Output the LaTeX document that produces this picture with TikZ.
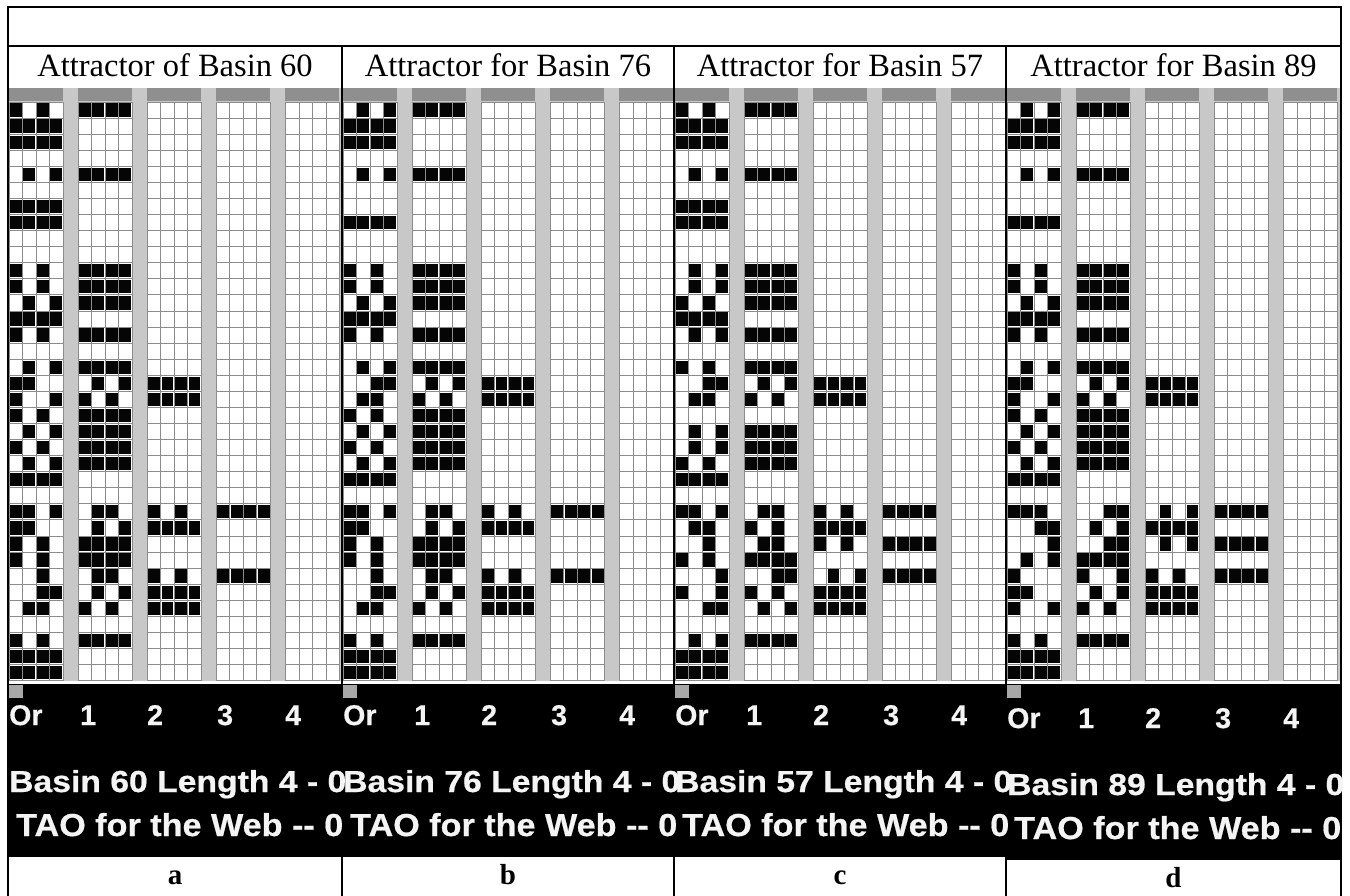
\documentclass[tikz,border=0pt]{standalone}
\usepackage{fontspec}
\setmainfont{Liberation Serif}
\newfontfamily\pixsans{Liberation Sans Bold}[FakeBold=0.6]
\usepackage{graphicx}
\definecolor{barDark}{HTML}{8F8F8F}
\definecolor{sepGray}{HTML}{C8C8C8}
\definecolor{gridGray}{HTML}{8C8C8C}
\definecolor{cellBlack}{HTML}{050505}
\definecolor{cornerGray}{HTML}{A8A8A8}
\definecolor{pixWhite}{HTML}{F4F4F4}

\tikzset{
  tableline/.style={line width=1.6pt, black},
  outerline/.style={line width=2pt, black},
  headtext/.style={anchor=base, inner sep=0pt, font=\fontsize{32.5}{38}\selectfont},
  labeltext/.style={anchor=base, inner sep=0pt, font=\fontsize{29}{34}\selectfont\bfseries},
  pixtext/.style={anchor=base west, inner sep=0pt, text=pixWhite, font=\pixsans\fontsize{28.5}{32}\selectfont},
  pixline/.style={anchor=base west, inner sep=0pt, text=pixWhite, font=\pixsans},
  gridline/.style={gridGray, line width=0.7pt},
}

\newcommand\cellfill[3]{\ifnum#1=1 \fill[cellBlack] ({#2+0.8},{#3+1.4}) rectangle ++(11.9,13.3);\fi}
\def\colbits#1#2#3#4\relax#5{%
  \cellfill{#1}{#5}{\cy}\cellfill{#2}{#5+13.5}{\cy}\cellfill{#3}{#5+27}{\cy}\cellfill{#4}{#5+40.5}{\cy}}

% grid part: #1 L, #2 R, #3 bottom shift, #4 data
\newcommand\attgrid[4]{%
  \fill[sepGray] ({#1+1},88) rectangle ({#2-1},681);
  \foreach \k in {0,...,4}{%
    \pgfmathsetmacro\xs{#1+1+69.1*\k}
    \fill[white] (\xs,102) rectangle ({\xs+54},680.5);
    \fill[barDark] (\xs,88) rectangle ({\xs+54},101.5);
    \draw[gridline] \foreach \j in {0,...,4}{({\xs+13.5*\j},102) -- ({\xs+13.5*\j},680.5)};
    \draw[gridline] \foreach \i in {0,...,36}{(\xs,{102+16.07*\i}) -- ({\xs+54},{102+16.07*\i})};
  }
  \pgfmathsetmacro\xA{#1+1}\pgfmathsetmacro\xB{#1+1+69.1}%
  \pgfmathsetmacro\xC{#1+1+138.2}\pgfmathsetmacro\xD{#1+1+207.3}%
  \foreach \r/\pA/\pB/\pC/\pD in {#4}{%
    \pgfmathsetmacro\cy{102+16.07*(\r-1)}
    \expandafter\colbits\pA\relax{\xA}
    \expandafter\colbits\pB\relax{\xB}
    \expandafter\colbits\pC\relax{\xC}
    \expandafter\colbits\pD\relax{\xD}
  }
  \fill[black] (#1,683.5) rectangle (#2,{857+#3});
  \fill[cornerGray] ({#1+1},685) rectangle ++(14,13);
}

% text part: #1 L, #2 R, #3 bottom shift, #4 header, #5 basin, #6 label
\newcommand\atttext[6]{%
  \node[pixtext] (or#6) at ({#1+1},{725+#3}) {Or};
  \node[pixtext] (one#6) at ({#1+72},{725+#3}) {1};
  \node[pixtext] (two#6) at ({#1+139},{725+#3}) {2};
  \node[pixtext] (three#6) at ({#1+209},{725+#3}) {3};
  \node[pixtext] (four#6) at ({#1+277},{725+#3}) {4};
  \node[pixline] (basin#6) at ({#1+1},{792+#3}) {\resizebox{337pt}{22pt}{Basin #5 Length 4 - 0}};
  \node[pixline] (tao#6) at ({#1+8},{836+#3}) {\resizebox{327pt}{23pt}{TAO for the Web -{}- 0}};
  \node[headtext] (head#6) at ({(#1+#2)/2},77) {#4};
  \node[labeltext] (lab#6) at ({(#1+#2)/2},{884+#3}) {#6};
}

\begin{document}
\begin{tikzpicture}[x=1pt,y=-1pt]
\useasboundingbox (0,0) rectangle (1350,896);
\fill[white] (0,0) rectangle (1350,896);

\attgrid{8}{342}{0}{1/1010/1111/0000/0000, 2/1111/0000/0000/0000, 3/1111/0000/0000/0000, 5/0101/1111/0000/0000, 7/1111/0000/0000/0000, 8/1111/0000/0000/0000, 11/1010/1111/0000/0000, 12/1010/1111/0000/0000, 13/0101/1111/0000/0000, 14/1111/0000/0000/0000, 15/1010/1111/0000/0000, 17/0101/1111/0000/0000, 18/1100/0101/1111/0000, 19/1001/1010/1111/0000, 20/1010/1111/0000/0000, 21/0101/1111/0000/0000, 22/1010/1111/0000/0000, 23/0101/1111/0000/0000, 24/1111/0000/0000/0000, 26/1101/0110/1010/1111, 27/1100/0101/1111/0000, 28/1010/1111/0000/0000, 29/1010/1111/0000/0000, 30/0010/0110/1010/1111, 31/0011/0101/1111/0000, 32/0110/1010/1111/0000, 34/1010/1111/0000/0000, 35/1111/0000/0000/0000, 36/1111/0000/0000/0000}

\attgrid{342}{674}{0}{1/0101/1111/0000/0000, 2/1111/0000/0000/0000, 3/1111/0000/0000/0000, 5/0101/1111/0000/0000, 8/1111/0000/0000/0000, 11/1010/1111/0000/0000, 12/1010/1111/0000/0000, 13/0101/1111/0000/0000, 14/1111/0000/0000/0000, 15/1010/1111/0000/0000, 17/0101/1111/0000/0000, 18/0011/0101/1111/0000, 19/0110/1010/1111/0000, 20/1010/1111/0000/0000, 21/0101/1111/0000/0000, 22/1010/1111/0000/0000, 23/0101/1111/0000/0000, 24/1111/0000/0000/0000, 26/1101/0110/1010/1111, 27/1100/0101/1111/0000, 28/1010/1111/0000/0000, 29/1010/1111/0000/0000, 30/0010/0110/1010/1111, 31/0011/0101/1111/0000, 32/0110/1010/1111/0000, 34/1010/1111/0000/0000, 35/1111/0000/0000/0000, 36/1111/0000/0000/0000}

\attgrid{674}{1006}{0}{1/1010/1111/0000/0000, 2/1111/0000/0000/0000, 3/1111/0000/0000/0000, 5/0101/1111/0000/0000, 7/1111/0000/0000/0000, 8/1111/0000/0000/0000, 11/0101/1111/0000/0000, 12/0101/1111/0000/0000, 13/1010/1111/0000/0000, 14/1111/0000/0000/0000, 15/0101/1111/0000/0000, 17/1010/1111/0000/0000, 18/0011/0101/1111/0000, 19/0110/1010/1111/0000, 21/0101/1111/0000/0000, 22/0101/1111/0000/0000, 23/1010/1111/0000/0000, 24/1111/0000/0000/0000, 26/1101/0110/1010/1111, 27/0110/1010/1111/0000, 28/0010/0110/1010/1111, 29/1010/1111/0000/0000, 30/0001/0011/0101/1111, 31/1001/1010/1111/0000, 32/0011/0101/1111/0000, 34/0101/1111/0000/0000, 35/1111/0000/0000/0000, 36/1111/0000/0000/0000}

\attgrid{1006}{1341}{3}{1/0101/1111/0000/0000, 2/1111/0000/0000/0000, 3/1111/0000/0000/0000, 5/0101/1111/0000/0000, 8/1111/0000/0000/0000, 11/1010/1111/0000/0000, 12/1010/1111/0000/0000, 13/0101/1111/0000/0000, 14/1111/0000/0000/0000, 15/1010/1111/0000/0000, 17/0101/1111/0000/0000, 18/1100/0101/1111/0000, 19/1001/1010/1111/0000, 20/1010/1111/0000/0000, 21/0101/1111/0000/0000, 22/1010/1111/0000/0000, 23/0101/1111/0000/0000, 24/1111/0000/0000/0000, 26/1110/0011/0101/1111, 27/0011/0101/1111/0000, 28/0001/0011/0101/1111, 29/0101/1111/0000/0000, 30/1000/1001/1010/1111, 31/1100/0101/1111/0000, 32/1001/1010/1111/0000, 34/1010/1111/0000/0000, 35/1111/0000/0000/0000, 36/1111/0000/0000/0000}

% table rules
\draw[outerline] (8,7) -- (1341,7);
\draw[outerline] (8,46) -- (1341,46);
\draw[outerline] (8,6) -- (8,896);
\draw[outerline] (1341,6) -- (1341,896);
\draw[tableline] (342,46) -- (342,683.5);
\draw[tableline] (674,46) -- (674,683.5);
\draw[tableline] (1006,46) -- (1006,683.5);
\draw[tableline] (342,857) -- (342,896);
\draw[tableline] (674,857) -- (674,896);
\draw[tableline] (1006,857) -- (1006,896);

\atttext{8}{342}{0}{Attractor of Basin 60}{60}{a}
\atttext{342}{674}{0}{Attractor for Basin 76}{76}{b}
\atttext{674}{1006}{0}{Attractor for Basin 57}{57}{c}
\atttext{1006}{1341}{3}{Attractor for Basin 89}{89}{d}
\end{tikzpicture}
\end{document}
